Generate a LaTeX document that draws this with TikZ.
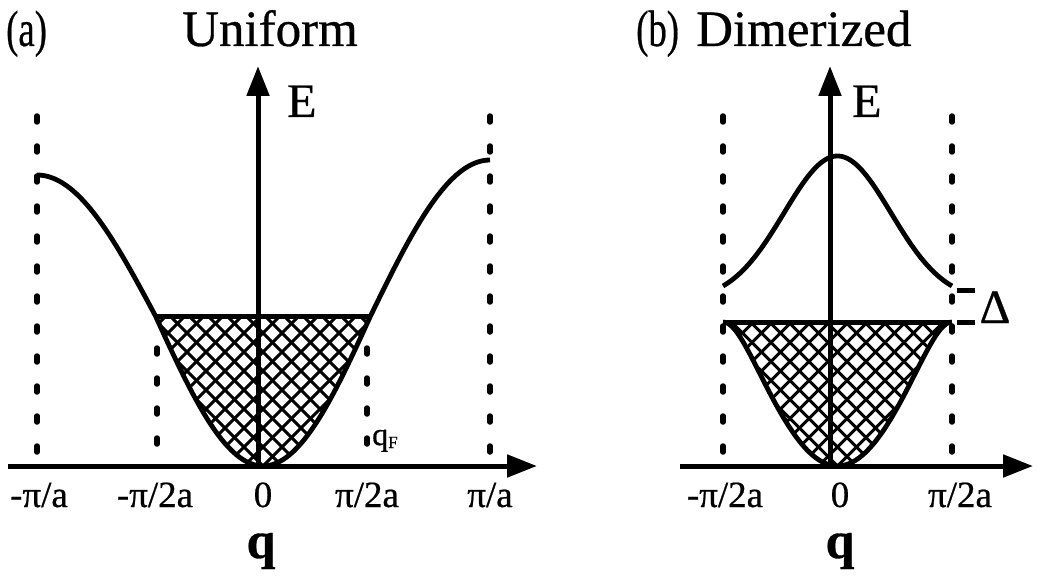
\documentclass[tikz,border=0pt]{standalone}
\usepackage{fontspec}
\setmainfont[FakeBold=0.6]{Liberation Serif}
\usetikzlibrary{arrows.meta}
\begin{document}
\begin{tikzpicture}[x=1pt,y=-1pt,
  axis/.style={line width=5pt,-{Triangle[length=30pt,width=22pt]}},
  band/.style={line width=4.8pt,line join=round},
  fermi/.style={line width=5pt},
  hatchline/.style={line width=3pt},
  dotline/.style={line width=5.5pt,line cap=round,dash pattern=on 6pt off 24pt},
  gaptick/.style={line width=5pt},
  ticklab/.style={font=\fontsize{37}{37}\selectfont,anchor=base,inner sep=0pt},
  qlab/.style={font=\fontsize{52}{52}\selectfont\bfseries,anchor=base,inner sep=0pt},
  elab/.style={font=\fontsize{48}{48}\selectfont,anchor=base west,inner sep=0pt},
  title/.style={font=\fontsize{51}{51}\selectfont,anchor=base west,inner sep=0pt}]
\useasboundingbox (0,0) rectangle (1051,588);

% ---------------- panel (a) ----------------
\draw[dotline] (37,116) -- (37,466);
\draw[dotline] (490,116) -- (490,466);
\draw[dotline] (157,348) -- (157,450);
\draw[dotline] (367,348) -- (367,450);

\begin{scope}
  \clip plot[domain=-90:90,samples=60] ({263+107.5*\x/90},{466-150*(1-cos(\x))}) -- cycle;
  \foreach \k in {-25,...,25} {
    \draw[hatchline] ({263+19*\k-200},266) -- ++(400,400);
    \draw[hatchline] ({263+19*\k-200},666) -- ++(400,-400);
  }
\end{scope}

\draw[band] plot[domain=-180:-90,samples=40] ({155.5+118.5*(\x+90)/90},{316+141*cos(\x)})
  -- plot[domain=-90:90,samples=60] ({263+107.5*\x/90},{466-150*(1-cos(\x))})
  -- plot[domain=90:180,samples=40] ({370.5+119.5*(\x-90)/90},{316+156*cos(\x)});
\draw[fermi] (155.5,316) -- (370.5,316);

\coordinate (qa0) at (8,466);
\coordinate (qa1) at (537,466);
\coordinate (ea0) at (258,468);
\coordinate (ea1) at (258,66);
\draw[axis] (qa0) -- (qa1);
\draw[axis] (ea0) -- (ea1);

\node[title] (ta) at (6,46) {\scalebox{0.72}[1]{(a)}};
\node[title] (tua) at (182,46) {Uniform};
\node[elab] (Ea) at (287,117) {E};
\node[anchor=base west,inner sep=0pt,font=\fontsize{32}{32}\selectfont] (qF) at (372,445)
  {q\raisebox{-3pt}{\fontsize{17}{17}\selectfont F}};

\node[ticklab] (la1) at (39,507) {-π/a};
\node[ticklab] (la2) at (155,507) {-π/2a};
\node[ticklab] (la3) at (263,507) {0};
\node[ticklab] (la4) at (367,507) {π/2a};
\node[ticklab] (la5) at (490,507) {π/a};
\node[qlab] (qa) at (261,558) {q};

% ---------------- panel (b) ----------------
\draw[dotline] (723,116) -- (723,466);
\draw[dotline] (952,116) -- (952,466);

\begin{scope}
  \clip plot[domain=-1:1,samples=80] ({837.5+114.5*(\x)},{322+144*(sqrt((cos(90*(\x)))^2+0.09*(sin(90*(\x)))^2)-0.3)/0.7}) -- cycle;
  \foreach \k in {-25,...,25} {
    \draw[hatchline] ({837.5+19*\k-200},266) -- ++(400,400);
    \draw[hatchline] ({837.5+19*\k-200},666) -- ++(400,-400);
  }
\end{scope}

\draw[band] plot[domain=-1:1,samples=80] ({837.5+114.5*(\x)},{322+144*(sqrt((cos(90*(\x)))^2+0.09*(sin(90*(\x)))^2)-0.3)/0.7});
\draw[band] plot[domain=-1:1,samples=80] ({837.5+114.5*(\x)},{286-130*(exp(-((\x)^2)/0.436)-0.1009)/0.8991});
\draw[fermi] (723,322) -- (952,322);

\coordinate (gt1a) at (957,290);
\coordinate (gt1b) at (975,290);
\coordinate (gt2a) at (957,322);
\coordinate (gt2b) at (975,322);
\draw[gaptick] (gt1a) -- (gt1b);
\draw[gaptick] (gt2a) -- (gt2b);
\node[anchor=base,inner sep=0pt,font=\fontsize{48}{48}\selectfont] (Dl) at (995,323) {Δ};

\coordinate (qb0) at (680,466);
\coordinate (qb1) at (1033,466);
\coordinate (eb0) at (830,468);
\coordinate (eb1) at (830,66);
\draw[axis] (qb0) -- (qb1);
\draw[axis] (eb0) -- (eb1);

\node[title] (tb) at (636,46) {\scalebox{0.72}[1]{(b)}};
\node[title] (tdb) at (696,46) {Dimerized};
\node[elab] (Eb) at (852,117) {E};

\node[ticklab] (lb1) at (725,507) {-π/2a};
\node[ticklab] (lb2) at (840,507) {0};
\node[ticklab] (lb3) at (960,507) {π/2a};
\node[qlab] (qb) at (840,558) {q};
\end{tikzpicture}
\end{document}
